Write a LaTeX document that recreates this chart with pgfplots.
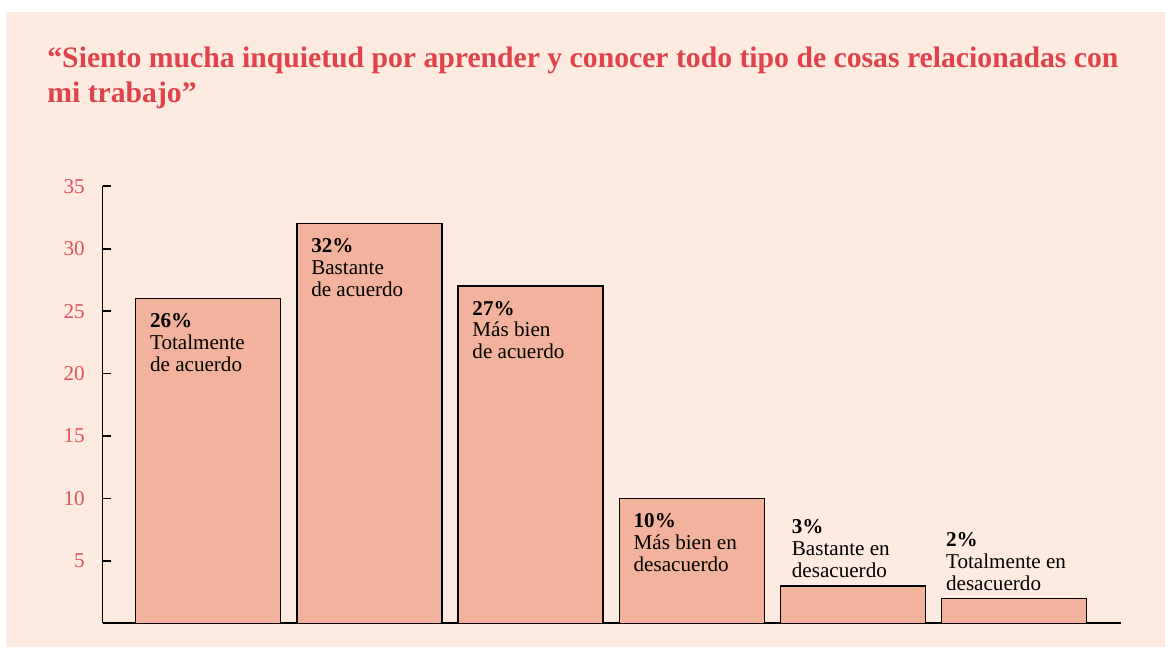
\documentclass[border=0pt]{standalone}
\usepackage{fontspec}
\setmainfont{Liberation Serif}
\usepackage{pgfplots}
\pgfplotsset{compat=1.18}
\usepackage{pgfplotstable}

\definecolor{bgpeach}{HTML}{FDEAE0}
\definecolor{barfill}{HTML}{F2B29B}
\definecolor{titlered}{HTML}{E0434B}
\definecolor{tickred}{HTML}{E4525A}

\pgfplotstableread{
x y
0 26
1 32
2 27
3 10
4 3
5 2
}\respuestas

\newcommand{\lblfont}{\fontsize{10.6}{11}\selectfont}

\begin{document}
\begin{tikzpicture}[x=1bp,y=1bp]
% page and background
\path[fill=white] (0,0) rectangle (582.5,323.5);
\path[fill=bgpeach] (3,0) rectangle (582.5,317.5);

% title
\begin{scope}[every node/.style={anchor=base west, inner sep=0, text=titlered,
    font=\fontsize{14.9}{17.5}\selectfont\bfseries}]
\node at (23.5,290) {“Siento mucha inquietud por aprender y conocer todo tipo de cosas relacionadas con};
\node at (23.5,272.5) {mi trabajo”};
\end{scope}

\begin{axis}[
  at={(63.7,19)}, anchor=south west,
  width=509bp, height=218.5bp, scale only axis,
  xmin=-0.6545, xmax=5.6607, ymin=0, ymax=35,
  axis lines=left,
  axis line style={-, line width=0.8bp},
  xtick=\empty,
  ytick={5,10,15,20,25,30,35},
  tick align=inside, major tick length=4bp,
  tick style={black, line width=0.8bp},
  yticklabel style={text=tickred, font=\fontsize{10.6}{12}\selectfont, xshift=-5.5bp},
  /pgf/number format/assume math mode=true,
  ybar, bar width=72.5bp,
  clip=false,
]
\addplot[fill=barfill, draw=black, line width=0.7bp] table[x=x,y=y]{\respuestas};

% labels inside the tall bars
\begin{scope}[every node/.style={anchor=north west, inner sep=0, align=left,
    font=\lblfont, xshift=7bp, yshift=-7.2bp}]
\node at (axis cs:-0.45,26) {\textbf{26\%}\\Totalmente\\de acuerdo};
\node at (axis cs:0.55,32) {\textbf{32\%}\\Bastante\\de acuerdo};
\node at (axis cs:1.55,27) {\textbf{27\%}\\Más bien\\de acuerdo};
\node at (axis cs:2.55,10) {\textbf{10\%}\\Más bien en\\desacuerdo};
\end{scope}

% labels above the short bars
\begin{scope}[every node/.style={anchor=south west, inner sep=0, align=left,
    font=\lblfont, yshift=3.8bp}]
\node[xshift=5.5bp] at (axis cs:3.55,3) {\textbf{3\%}\\Bastante en\\desacuerdo};
\node[xshift=2bp] at (axis cs:4.55,2) {\textbf{2\%}\\Totalmente en\\desacuerdo};
\end{scope}
\end{axis}
\end{tikzpicture}
\end{document}
